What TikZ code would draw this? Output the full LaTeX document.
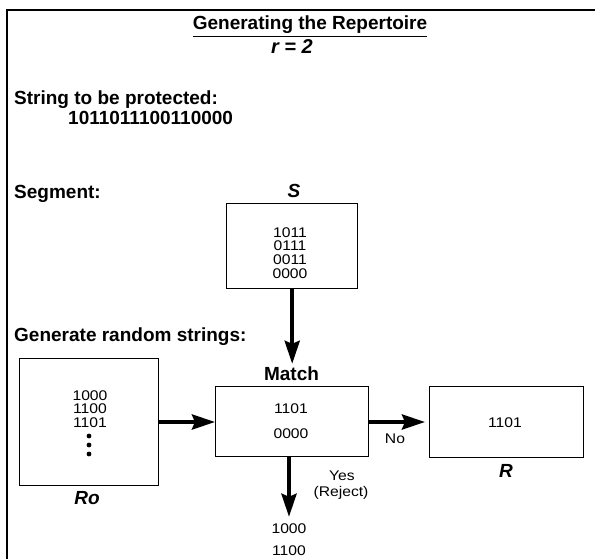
\documentclass[tikz,border=0pt]{standalone}
\usepackage{fontspec}
\setmainfont{Liberation Sans}
\newfontfamily\numfont[FakeStretch=1.12]{Liberation Sans}
\usetikzlibrary{arrows.meta}
\tikzset{
  box/.style={draw, line width=1.4pt, inner sep=0pt, anchor=north west},
  lbl/.style={font=\bfseries\fontsize{19}{22}\selectfont, inner sep=0pt},
  ital/.style={font=\bfseries\itshape\fontsize{19}{22}\selectfont, inner sep=0pt},
  nums/.style={font=\numfont\fontsize{14}{16}\selectfont, inner sep=0pt, text height=10pt, text depth=0pt},
  small/.style={font=\numfont\fontsize{14}{16}\selectfont, inner sep=0pt},
  bigarrow/.style={line width=4pt, -{Stealth[length=23pt,width=15pt,inset=3pt]}},
}
\begin{document}
\begin{tikzpicture}[x=1pt,y=-1pt]
\useasboundingbox (0,0) rectangle (595,559);
% frame
\draw[line width=2.5pt] (7,559) -- (7,10) -- (595,10);
% title
\node[lbl] (title) at (310,25) {Generating the Repertoire};
\draw[line width=1.8pt] ([yshift=-2.5pt]title.south west) -- ([yshift=-2.5pt]title.south east);
\node[ital, font=\bfseries\itshape\fontsize{20}{22}\selectfont] (rr) at (292,47) {r = 2};
% string
\node[lbl, anchor=west] (str) at (14,100) {String to be protected:};
\node[lbl, anchor=west] (strv) at (68,117.5) {1011011100110000};
% segment
\node[lbl, anchor=west] (seg) at (14,194) {Segment:};
\node[ital] (slab) at (294,191) {S};
\node[box, minimum width=131pt, minimum height=85pt] (S) at (225.5,203) {};
\node[nums] (s1) at (290,232) {1011};
\node[nums] (s2) at (290,246) {0111};
\node[nums] (s3) at (290,260) {0011};
\node[nums] (s4) at (290,274) {0000};
% generate
\node[lbl, anchor=west] (gen) at (14,337) {Generate random strings:};
\node[box, minimum width=139pt, minimum height=127pt] (Ro) at (19,358) {};
\node[nums] (r1) at (90,395) {1000};
\node[nums] (r2) at (90,408.5) {1100};
\node[nums] (r3) at (90,422) {1101};
\foreach \yy [count=\i] in {436,445,454} \fill (89,\yy) circle (2.4pt) coordinate (d\i);
\node[ital] (rolab) at (87,498) {Ro};
% match
\node[lbl] (mlab) at (291.5,374) {Match};
\node[box, minimum width=153pt, minimum height=70pt] (M) at (215,386) {};
\node[nums] (m1) at (291,408) {1101};
\node[nums] (m2) at (291,433) {0000};
% R
\node[box, minimum width=154pt, minimum height=71pt] (R) at (429,386) {};
\node[nums] (rtext) at (505,422) {1101};
\node[ital] (rlab) at (506,471) {R};
% output
\node[nums] (out1) at (289,528) {1000};
\node[nums] (out2) at (289,550) {1100};
% labels
\node[small] (no) at (395,439) {No};
\node[small] (yes) at (342,476) {Yes};
\node[small] (rej) at (341,493) {(Reject)};
% arrows
\draw[bigarrow] (S.south -| M.north) -- ([yshift=3pt]mlab.north -| M.north);
\draw[bigarrow] (Ro.east |- 0,422) -- (M.west |- 0,422);
\draw[bigarrow] (M.east |- 0,422) -- ([xshift=-4pt]R.west |- 0,422);
\draw[bigarrow] (M.south -| out1) -- ([yshift=6pt]out1.north);
\end{tikzpicture}
\end{document}
